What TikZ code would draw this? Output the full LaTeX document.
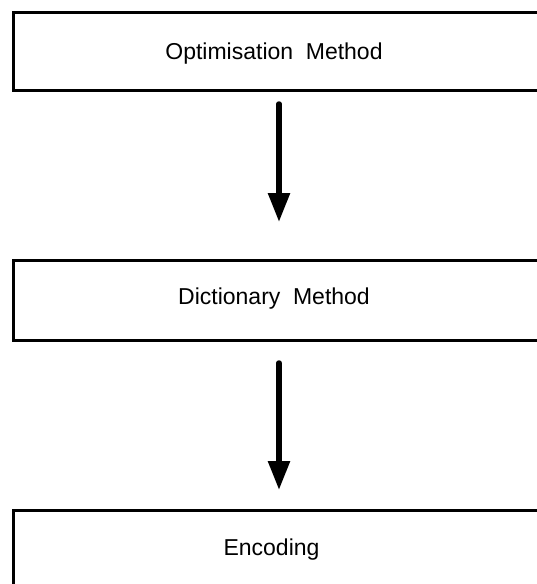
\documentclass[tikz,border=0pt]{standalone}
\usepackage{fontspec}
\setmainfont{Liberation Sans}
\usetikzlibrary{arrows.meta}
\begin{document}
\begin{tikzpicture}[x=1pt,y=-1pt,
  stage/.style={draw, line width=3pt, inner sep=0pt, anchor=north west, minimum width=560pt},
  lbl/.style={font=\fontsize{23}{27}\selectfont, inner sep=0pt, anchor=base},
  flow/.style={line width=5.5pt, line cap=round, -{Triangle[length=29pt,width=21pt]}}]
\useasboundingbox (0,0) rectangle (537,584);
\fill[white] (0,0) rectangle (537,584);
\clip (0,0) rectangle (537,584);

% process stages (right side and last bottom run past the page edge)
\node[stage, minimum height=78pt] (opt) at (11.5,10.5) {};
\node[stage, minimum height=80pt] (dict) at (11.5,258.5) {};
\node[stage, minimum height=100pt] (enc) at (11.5,508.5) {};

% stage captions
\node[lbl] (optlbl) at (274,59) {Optimisation\hspace{0.55em}Method};
\node[lbl] (dictlbl) at (274,304) {Dictionary\hspace{0.55em}Method};
\node[lbl] (enclbl) at (271.5,555) {Encoding};

% flow arrows between stages
\coordinate (a1s) at (279,104);
\coordinate (a1e) at (279,222);
\coordinate (a2s) at (279,363);
\coordinate (a2e) at (279,490);
\draw[flow] (a1s) -- (a1e);
\draw[flow] (a2s) -- (a2e);
\end{tikzpicture}
\end{document}
